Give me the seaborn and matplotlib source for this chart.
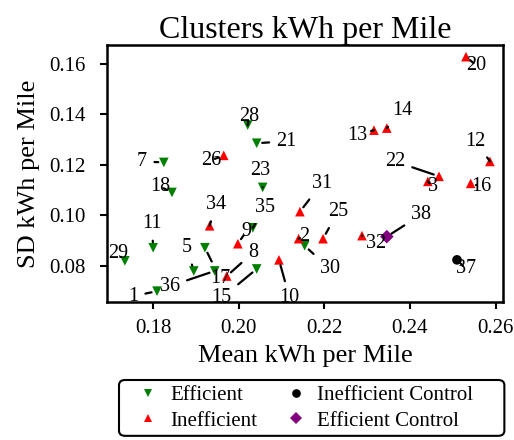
import matplotlib
matplotlib.use("Agg")
import matplotlib.pyplot as plt
from matplotlib.patches import FancyBboxPatch
import seaborn as sns
import pandas as pd

# ---- data ----
labels = [29, 11, 1, 18, 7, 28, 21, 23, 17, 5, 36, 15, 35, 30,
          26, 34, 9, 8, 10, 31, 2, 25, 32, 3, 22, 16, 12, 20, 13, 14,
          38, 37]
mean_kwh = [0.1734, 0.1800, 0.1809, 0.1844, 0.1825, 0.2021, 0.2042, 0.2056,
            0.1921, 0.1895, 0.1944, 0.2042, 0.2033, 0.2154,
            0.1965, 0.1932, 0.1998, 0.1972, 0.2094, 0.2143, 0.2140, 0.2197,
            0.2288, 0.2442, 0.2468, 0.2542, 0.2587, 0.2531, 0.2316, 0.2346,
            0.2346, 0.2510]
sd_kwh = [0.0820, 0.0872, 0.0700, 0.1091, 0.1210, 0.1358, 0.1286, 0.1111,
          0.0872, 0.0780, 0.0780, 0.0788, 0.0951, 0.0880,
          0.1238, 0.0959, 0.0888, 0.0760, 0.0824, 0.1015, 0.0908, 0.0908,
          0.0920, 0.1135, 0.1155, 0.1127, 0.1214, 0.1629, 0.1338, 0.1346,
          0.0916, 0.0824]
groups = (["Efficient"] * 14 + ["Inefficient"] * 16
          + ["Efficient Control", "Inefficient Control"])

hue_order = ["Efficient", "Inefficient", "Inefficient Control", "Efficient Control"]
palette = {"Efficient": "green", "Inefficient": "red",
           "Inefficient Control": "black", "Efficient Control": "purple"}
markers = {"Efficient": "v", "Inefficient": "^",
           "Inefficient Control": "o", "Efficient Control": "D"}

# label text positions (data coords), layout only
label_pos = {
    1: (0.1753, 0.0680), 2: (0.2152, 0.0916), 3: (0.2453, 0.1115),
    5: (0.1879, 0.0872), 7: (0.1774, 0.1214), 8: (0.2033, 0.0852),
    9: (0.2017, 0.0935), 10: (0.2119, 0.0673), 11: (0.1797, 0.0967),
    12: (0.2554, 0.1294), 13: (0.2278, 0.1318), 14: (0.2383, 0.1414),
    15: (0.1960, 0.0673), 16: (0.2566, 0.1115), 17: (0.1956, 0.0752),
    18: (0.1816, 0.1115), 20: (0.2556, 0.1593), 21: (0.2112, 0.1294),
    22: (0.2365, 0.1214), 23: (0.2049, 0.1178), 25: (0.2232, 0.1015),
    26: (0.1935, 0.1218), 28: (0.2024, 0.1390), 29: (0.1718, 0.0848),
    30: (0.2213, 0.0788), 31: (0.2194, 0.1127), 32: (0.2320, 0.0888),
    34: (0.1947, 0.1043), 35: (0.2061, 0.1031), 36: (0.1839, 0.0720),
    37: (0.2531, 0.0788), 38: (0.2426, 0.1003),
}

df = pd.DataFrame({"label": labels, "Mean kWh per Mile": mean_kwh,
                   "SD kWh per Mile": sd_kwh, "Cluster": groups})

sns.set_style("ticks")
plt.rcParams["font.family"] = ["Liberation Serif", "DejaVu Serif"]
plt.rcParams["text.color"] = "black"
plt.rcParams["axes.labelcolor"] = "black"
plt.rcParams["xtick.color"] = "black"
plt.rcParams["ytick.color"] = "black"

fig = plt.figure(figsize=(5.14, 4.40), dpi=100)
ax = fig.add_axes([0.208, 0.3136, 0.771, 0.584])

sns.scatterplot(data=df, x="Mean kWh per Mile", y="SD kWh per Mile",
                hue="Cluster", style="Cluster", hue_order=hue_order,
                style_order=hue_order, palette=palette, markers=markers,
                s=48, linewidth=0, ax=ax, legend=True, zorder=3)

for lab, xv, yv in zip(labels, mean_kwh, sd_kwh):
    tx, ty = label_pos[lab]
    ax.annotate(str(lab), xy=(xv, yv), xytext=(tx, ty),
                ha="center", va="center", fontsize=14.5, color="black",
                arrowprops=dict(arrowstyle="-", color="black", lw=1.6,
                                shrinkA=3, shrinkB=4), zorder=4)

ax.set_xlim(0.1692, 0.2618)
ax.set_ylim(0.0657, 0.1675)
ax.set_xticks([0.18, 0.20, 0.22, 0.24, 0.26])
ax.set_yticks([0.08, 0.10, 0.12, 0.14, 0.16])
ax.tick_params(labelsize=15, width=1.5, length=5, colors="black")
ax.tick_params(axis="x", pad=7)
ax.tick_params(axis="y", pad=10)
for sp in ax.spines.values():
    sp.set_linewidth(1.8)
    sp.set_color("black")
    sp.set_visible(True)
ax.set_xlabel("Mean kWh per Mile", fontsize=19, labelpad=5)
ax.set_ylabel("SD kWh per Mile", fontsize=19, labelpad=7)
ax.set_title("Clusters kWh per Mile", fontsize=23, pad=5, color="black")

handles, lbls = ax.get_legend_handles_labels()
ax.get_legend().remove()
leg = fig.legend(handles, lbls, loc="upper left", ncol=2,
                 bbox_to_anchor=(119 / 514, 1 - 380 / 440),
                 bbox_transform=fig.transFigure, borderaxespad=0,
                 fontsize=15, frameon=False, markerscale=0.9,
                 handlelength=2.3, handletextpad=-0.1, columnspacing=0.7,
                 borderpad=0.25, labelspacing=0.3)
for t in leg.get_texts():
    t.set_color("black")

fig.canvas.draw()
bb = leg.get_window_extent().transformed(fig.transFigure.inverted())
frame = FancyBboxPatch((bb.x0, bb.y0), bb.width + 0.05, bb.height,
                       boxstyle="round,pad=0,rounding_size=0.012",
                       transform=fig.transFigure, facecolor="white",
                       edgecolor="black", linewidth=1.5, zorder=0)
fig.patches.append(frame)

fig.savefig("out.png", dpi=100)
